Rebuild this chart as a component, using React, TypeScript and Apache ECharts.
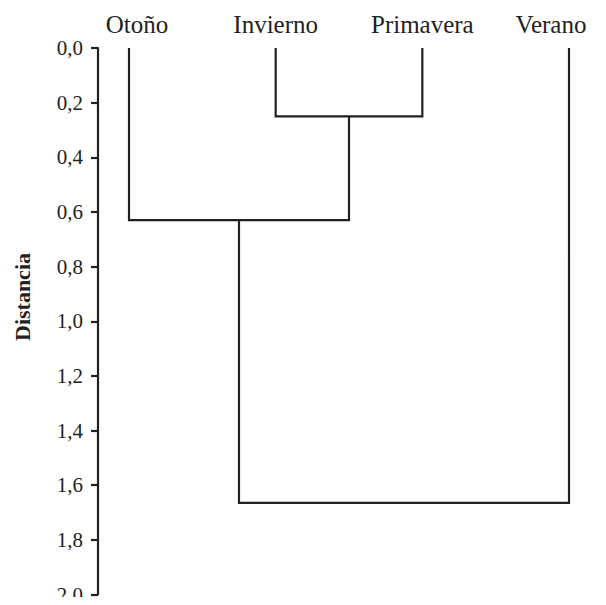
import React, { useEffect, useRef } from "react";
import * as echarts from "echarts";

const leaves = ["Otoño", "Invierno", "Primavera", "Verano"];
// merges: [left node, right node, distance]; nodes 0..3 are leaves, then merges in order
const merges: [number, number, number][] = [
  [1, 2, 0.25],
  [0, 4, 0.63],
  [5, 3, 1.665],
];
const tickLabels = ["0,0", "0,2", "0,4", "0,6", "0,8", "1,0", "1,2", "1,4", "1,6", "1,8", "2.0"];
const axisName = "Distancia";

const INK = "#231f20";
const FONT = "'Liberation Serif', 'Times New Roman', serif";
// small horizontal nudges of the leaf labels, as in the original figure
const labelPad: [number, number, number, number][] = [
  [0, 0, 0, 16],
  [0, 0, 0, 0],
  [0, 0, 0, 0],
  [0, 36, 0, 0],
];

export default function App() {
  const ref = useRef<HTMLDivElement>(null);
  useEffect(() => {
    if (!ref.current) return;
    const chart = echarts.init(ref.current, undefined, { renderer: "svg" });
    const nodeX: number[] = leaves.map((_, i) => i);
    const nodeH: number[] = leaves.map(() => 0);
    const series: any[] = [];
    merges.forEach(([a, b, h]) => {
      const x = (nodeX[a] + nodeX[b]) / 2;
      nodeX.push(x);
      nodeH.push(h);
      series.push({
        type: "line",
        data: [
          [nodeX[a], nodeH[a]],
          [nodeX[a], h],
          [nodeX[b], h],
          [nodeX[b], nodeH[b]],
        ],
        symbol: "none",
        lineStyle: { color: INK, width: 2.2, join: "miter", cap: "butt" },
        silent: true,
      });
    });
    const rich: any = {};
    labelPad.forEach((p, i) => {
      rich["l" + i] = { padding: p, fontFamily: FONT, fontSize: 25, color: INK };
    });
    chart.setOption({
      animation: false,
      grid: { left: 129, right: 37, top: 48, bottom: 2 },
      xAxis: {
        type: "value",
        position: "top",
        min: 0,
        max: leaves.length - 1,
        interval: 1,
        axisLine: { show: false },
        axisTick: { show: false },
        splitLine: { show: false },
        axisLabel: {
          margin: 11,
          color: INK,
          fontFamily: FONT,
          fontSize: 25,
          formatter: (v: number) => {
            const i = Math.round(v);
            return leaves[i] ? `{l${i}|${leaves[i]}}` : "";
          },
          rich,
        },
      },
      yAxis: {
        type: "value",
        inverse: true,
        min: 0,
        max: 2,
        interval: 0.2,
        offset: 31,
        axisLine: { show: true, onZero: false, lineStyle: { color: INK, width: 2.2 } },
        axisTick: { show: true, length: 7, lineStyle: { color: INK, width: 2.2 } },
        splitLine: { show: false },
        axisLabel: {
          margin: 15,
          color: INK,
          fontFamily: FONT,
          fontSize: 21,
          formatter: (v: number) => tickLabels[Math.round(v / 0.2)] ?? "",
        },
      },
      graphic: [
        {
          type: "text",
          x: 22,
          y: 297,
          rotation: Math.PI / 2,
          style: {
            text: axisName,
            fill: INK,
            font: `bold 22px ${FONT}`,
            align: "center",
            verticalAlign: "middle",
          },
        },
      ],
      series,
    });
    return () => chart.dispose();
  }, []);
  return <div ref={ref} style={{ width: 606, height: 605, margin: -8 }} />;
}
